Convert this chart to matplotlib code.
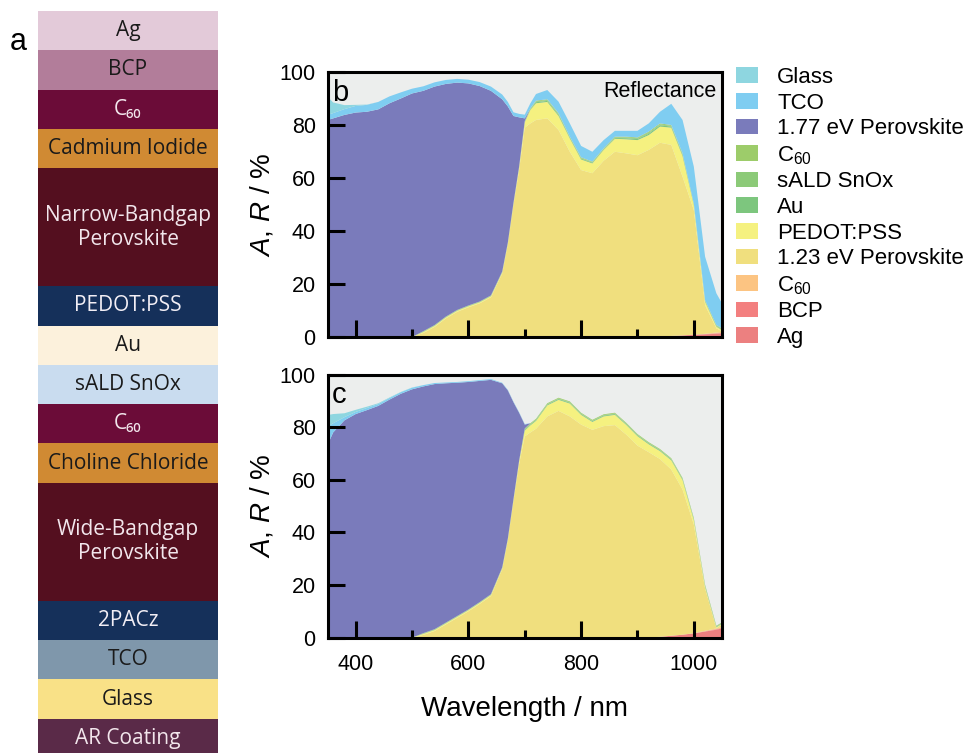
import numpy as np
import matplotlib
matplotlib.use("Agg")
import matplotlib.pyplot as plt
from matplotlib.patches import Patch
from matplotlib.ticker import MultipleLocator

plt.rcParams['font.family'] = ['Liberation Sans', 'DejaVu Sans']
plt.rcParams['mathtext.fontset'] = 'custom'
plt.rcParams['mathtext.rm'] = 'Liberation Sans'
plt.rcParams['mathtext.it'] = 'Liberation Sans:italic'

# ---- device stack (panel a), top to bottom ----
stack_names = ['Ag', 'BCP', 'C₆₀', 'Cadmium Iodide', 'Narrow-Bandgap\nPerovskite', 'PEDOT:PSS',
               'Au', 'sALD SnOx', 'C₆₀', 'Choline Chloride', 'Wide-Bandgap\nPerovskite',
               '2PACz', 'TCO', 'Glass', 'AR Coating']
stack_units = [1, 1, 1, 1, 3, 1, 1, 1, 1, 1, 3, 1, 1, 1, 1]
stack_colors = ['#e3cad9', '#b27d9a', '#6b0c38', '#d08a33', '#540f1f', '#15305a',
                '#fcf1dc', '#c9dcef', '#6b0c38', '#d08a33', '#540f1f', '#15305a',
                '#7f97ab', '#f9e187', '#5a2a48']
stack_text = ['#1a1a1a', '#1a1a1a', '#f2e6ec', '#1a1a1a', '#f2e6ec', '#f2eef5',
              '#1a1a1a', '#1a1a1a', '#f2e6ec', '#1a1a1a', '#f2e6ec', '#f2eef5',
              '#1a1a1a', '#1a1a1a', '#f2e6ec']

# ---- absorption data ----
wl = [350, 360, 380, 400, 420, 440, 460, 480, 500, 520, 540, 560, 580, 600, 620, 640, 660, 670, 680, 690,
      700, 710, 720, 740, 760, 780, 800, 820, 840, 860, 880, 900, 920, 940, 960, 980, 1000, 1020, 1040, 1050]

# panel b
ag_b = [0]*33 + [0.2, 0.4, 0.6, 0.8, 1.0, 1.2, 1.3]
bcp_b = [0]*36 + [0.1, 0.1, 0.2, 0.2]
c60_bot_b = [0]*37 + [0.1, 0.3, 0.4]
pvk123_b = [0]*9 + [1.5, 3.8, 7.0, 9.5, 11.2, 12.7, 15.0, 24.0, 35.0, 50.0, 63.0,
                    79.0, 80.6, 81.9, 82.5, 78.1, 69.9, 63.0, 61.8, 66.5, 69.9, 69.3, 68.6, 70.6,
                    73.1, 72.1, 59.9, 47.0, 10.8, 1.6, 0.2]
pedot_b = [0]*9 + [0.4]*10 + [1.0, 2.0, 5.1, 6.3, 6.2, 5.3, 5.0, 4.0, 3.7, 4.1, 4.9, 5.3, 5.7, 5.6,
                             6.1, 6.5, 7.8, 1.9, 1.3, 0.6, 0.5]
au_b = [0]*9 + [0.1]*11 + [0.2, 0.2, 0.4, 0.4, 0.4, 0.3, 0.3, 0.3, 0.2, 0.3, 0.4, 0.4, 0.5, 0.5,
                          0.4, 0.4, 0.2, 0.2, 0.2, 0.3]
snox_b = [0]*9 + [0.1]*11 + [0.1, 0.2, 0.3, 0.3, 0.3, 0.2, 0.2, 0.2, 0.2, 0.2, 0.3, 0.3, 0.4, 0.3,
                            0.3, 0.3, 0.2, 0.2, 0.2, 0.2]
c60_top_b = [0]*9 + [0.1]*11 + [0.2, 0.2, 0.3, 0.3, 0.3, 0.2, 0.3, 0.2, 0.2, 0.3, 0.3, 0.3, 0.4, 0.4,
                               0.3, 0.3, 0.2, 0.2, 0.2, 0.2]
pvk177_b = [81.9, 82.5, 83.8, 84.7, 85.0, 85.9, 88.2, 90.0, 91.9, 90.7, 90.0, 87.8, 85.8, 83.8, 81.3,
            77.2, 65.0, 51.3, 32.7, 18.6, 1.0] + [0]*19
tco_b = [1.9, 2.0, 2.2, 2.5, 2.6, 2.8, 2.6, 2.3, 1.8, 1.7, 1.6, 1.5, 1.4, 1.4, 1.5, 1.6, 1.8, 1.7, 1.4,
         1.3, 1.4, 1.9, 2.5, 3.5, 4.4, 5.0, 4.3, 3.7, 3.1, 2.2, 2.2, 2.5, 3.1, 4.4, 8.0, 12.6, 13.9,
         16.4, 12.0, 9.4]
glass_b = [6.9, 4.0, 1.5, 0.4, 0.1] + [0]*35

# panel c
ag_c = [0]*32 + [0.1, 0.3, 0.7, 1.1, 1.6, 2.3, 3.0, 3.5]
bcp_c = [0]*37 + [0.1, 0.2, 0.2]
c60_bot_c = [0]*36 + [0.1, 0.2, 0.3, 0.3]
pvk123_c = [0]*9 + [1.0, 2.5, 5.0, 7.5, 10.0, 12.8, 15.8, 26.0, 37.0, 52.0, 66.0,
                    76.5, 78.0, 79.4, 84.1, 86.2, 84.1, 81.0, 79.0, 80.4, 80.8, 77.2, 73.0, 70.4,
                    67.6, 63.2, 55.2, 41.3, 16.1, 0.1, 1.0]
pedot_c = [0]*9 + [0.4]*10 + [1.0, 2.2, 2.7, 3.0, 4.2, 4.2, 4.9, 3.7, 3.0, 3.7, 3.9, 3.7, 3.6, 3.0,
                             3.0, 3.5, 3.6, 1.7, 0.6, 0.3, 0.3]
au_c = [0]*9 + [0.1]*11 + [0.3]*18 + [0.2, 0.2]
snox_c = [0]*9 + [0.1]*11 + [0.2]*18 + [0.2, 0.1]
c60_top_c = [0]*9 + [0.1]*11 + [0.3]*18 + [0.2, 0.2]
pvk177_c = [73.2, 78.0, 82.6, 85.0, 86.5, 88.1, 90.5, 92.7, 94.4, 93.8, 93.2, 91.0, 88.7, 86.5, 84.1,
            81.5, 70.0, 56.3, 36.8, 18.2, 1.5] + [0]*19
tco_c = [7.0, 3.5, 1.2, 0.8, 0.8, 0.7, 0.6, 0.6, 0.6, 0.5, 0.4, 0.3, 0.3, 0.3, 0.3, 0.3, 0.2, 0.2, 0.2,
         0.2, 0.2] + [0]*19
glass_c = [4.4, 3.5, 1.5, 0.8, 0.5, 0.3, 0.2, 0.1, 0.1] + [0]*31

# legend order (top to bottom) and colours
layer_labels = ['Glass', 'TCO', '1.77 eV Perovskite', r'C$_{60}$', 'sALD SnOx', 'Au', 'PEDOT:PSS',
                '1.23 eV Perovskite', r'C$_{60}$', 'BCP', 'Ag']
layer_colors = ['#8ed6e0', '#7fcdf1', '#7a7bbb', '#9dcc6a', '#8cca78', '#7dc67e', '#f5f180',
                '#f0df7e', '#fcc482', '#f37f7f', '#ec8080']

fig = plt.figure(figsize=(9.68, 7.53), dpi=100)

# panel a: layer stack
ax_a = fig.add_axes([38/968, -5/753, 180/968, 747/753])
bottom = 0
for name, h, col, tc in zip(stack_names, stack_units, stack_colors, stack_text):
    ax_a.bar(0.5, h, bottom=bottom, width=1, color=col, linewidth=0)
    ax_a.text(0.5, bottom + h/2, name, ha='center', va='center', color=tc, fontsize=15,
              family=['Open Sans', 'DejaVu Sans'], linespacing=1.2)
    bottom += h
ax_a.set_xlim(0, 1)
ax_a.set_ylim(sum(stack_units), 0)
ax_a.axis('off')
fig.text(10/968, 1 - 42/753, 'a', fontsize=22, va='center', ha='left')

def draw_panel(ax, series, letter):
    ax.set_facecolor('#eceeed')
    ax.stackplot(wl, series, colors=layer_colors[::-1], linewidth=0)
    ax.set_xlim(350, 1050)
    ax.set_ylim(0, 100)
    ax.xaxis.set_major_locator(MultipleLocator(200))
    ax.xaxis.set_minor_locator(MultipleLocator(100))
    ax.yaxis.set_major_locator(MultipleLocator(20))
    ax.tick_params(axis='both', which='major', direction='in', length=12, width=2.2,
                   labelsize=15.5, top=False, right=False)
    ax.tick_params(axis='x', which='major', pad=12)
    ax.tick_params(axis='y', which='major', pad=8.5)
    ax.tick_params(axis='x', which='minor', direction='in', length=5.5, width=2.2, top=False)
    ax.tick_params(axis='y', which='minor', left=False)
    for s in ax.spines.values():
        s.set_linewidth(2.2)
        s.set_zorder(5)
    ax.set_ylabel(r'$A$, $R$ / %', fontsize=20, labelpad=3)
    ax.text(0.012, 0.975, letter, transform=ax.transAxes, fontsize=21, va='top', ha='left')

ax_b = fig.add_axes([327.5/968, 1 - 337/753, 394.5/968, 265/753])
draw_panel(ax_b, [ag_b, bcp_b, c60_bot_b, pvk123_b, pedot_b, au_b, snox_b, c60_top_b,
                  pvk177_b, tco_b, glass_b], 'b')
ax_b.tick_params(axis='x', which='both', labelbottom=False)
ax_b.text(0.985, 0.965, 'Reflectance', transform=ax_b.transAxes, fontsize=15.5, va='top', ha='right')

ax_c = fig.add_axes([327.5/968, 1 - 637.6/753, 394.5/968, 263/753])
draw_panel(ax_c, [ag_c, bcp_c, c60_bot_c, pvk123_c, pedot_c, au_c, snox_c, c60_top_c,
                  pvk177_c, tco_c, glass_c], 'c')
ax_c.set_xlabel('Wavelength / nm', fontsize=20, labelpad=15)

handles = [Patch(facecolor=c, edgecolor='none') for c in layer_colors]
fig.legend(handles, layer_labels, loc='upper left', bbox_to_anchor=(736/968, 1 - 67/753),
           frameon=False, fontsize=16, handlelength=1.0, handleheight=0.7, handletextpad=0.85,
           labelspacing=0.21, borderpad=0, borderaxespad=0)

fig.savefig('out.png', dpi=100)
